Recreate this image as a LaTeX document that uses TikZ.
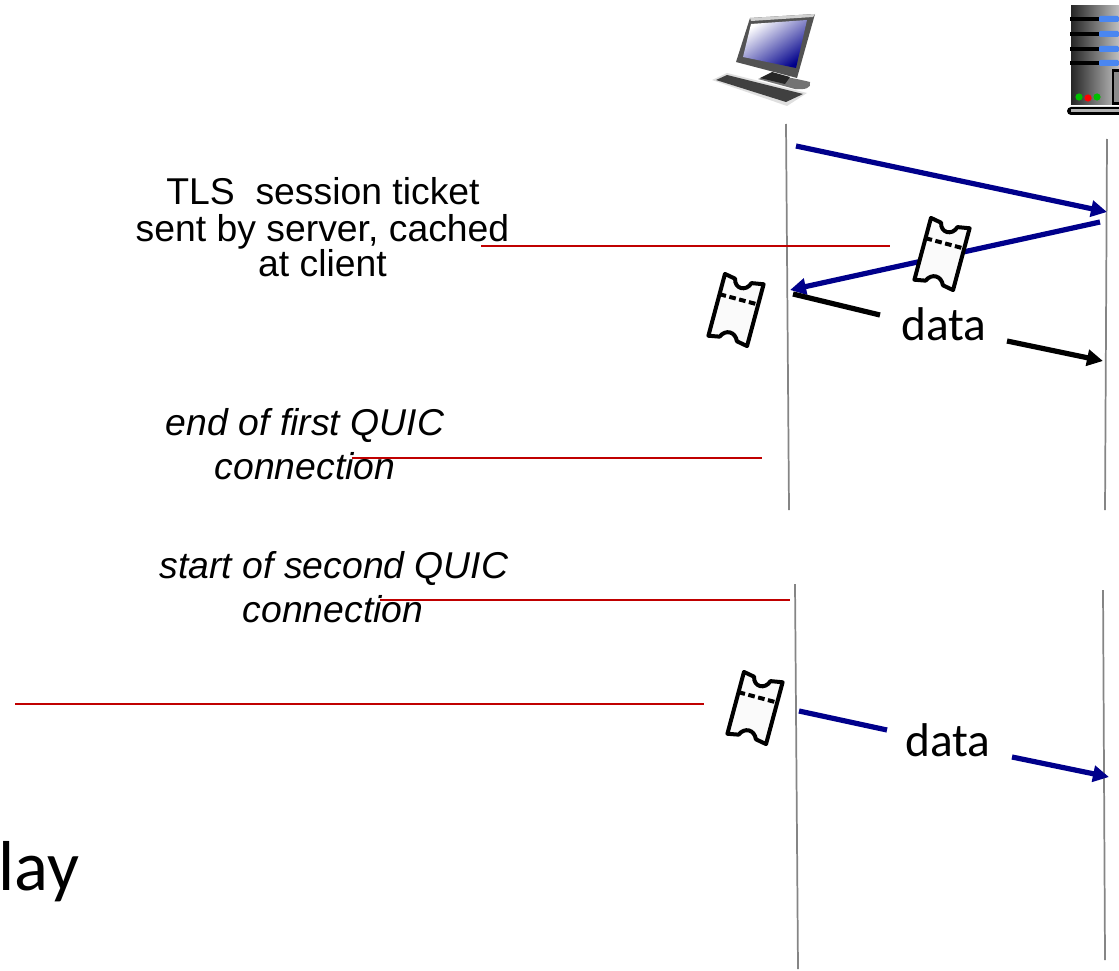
\documentclass[tikz,border=0pt]{standalone}
\usepackage{fontspec}
\setmainfont{Liberation Sans}
\newfontfamily\carl{Carlito}
\usetikzlibrary{arrows.meta}
\definecolor{flowblue}{HTML}{00008B}
\definecolor{notered}{HTML}{C00000}
\definecolor{lifegrey}{HTML}{858585}
\definecolor{slotblue}{HTML}{4A86F0}
\tikzset{
  x=0.75pt,y=-0.75pt,
  life/.style={draw=lifegrey,line width=1.3pt},
  msgblue/.style={draw=flowblue,line width=3.9pt},
  msgblack/.style={draw=black,line width=3.9pt},
  headtip/.style={-{Triangle[length=12pt,width=12pt]}},
  note/.style={draw=notered,line width=1.5pt},
  body/.style={font=\fontsize{28}{30}\selectfont,inner sep=0pt,anchor=base},
  ibody/.style={font=\fontsize{28}{30}\selectfont\itshape,inner sep=0pt,anchor=base},
  datalab/.style={font=\carl\fontsize{35.5}{40}\selectfont,inner sep=0pt,anchor=base},
  ticketpic/.pic={
    \draw[fill=white!98!black,line width=3pt,line join=round]
      (-20,-32) -- (-9,-30) .. controls (-7,-20) and (5,-20) .. (8,-30) -- (20,-32)
      -- (20,32) -- (9,30) .. controls (5,21) and (-5,21) .. (-9,30) -- (-20,32) -- cycle;
    \draw[line width=3pt,dash pattern=on 5pt off 2.6pt] (-20,-11) -- (20,-11);
  }
}
\begin{document}
\begin{tikzpicture}
\useasboundingbox (0,0) rectangle (1119,970);
% workstation
\fill[gray!65!black] (750,18) -- (815,14) -- (797,78) -- (736,62) -- cycle;
\fill[gray!35] (750,18) -- (815,14) -- (813,17) -- (751,21) -- cycle;
\shade[left color=white,right color=flowblue,shading angle=35] (751,24) -- (807,20) -- (796,68) -- (743,57) -- cycle;
\fill[black!55] (758,79) .. controls (770,74) and (785,76) .. (810,82) .. controls (812,88) and (805,90) .. (795,89) -- cycle;
\fill[black!85] (760,78) -- (772,72) -- (790,77) -- (785,84) -- cycle;
\fill[gray!25] (712,80) -- (727,73) -- (807,93) -- (787,106) -- cycle;
\fill[black!75] (716,80) -- (727,75) -- (803,94) -- (786,102) -- cycle;
% server
\shade[left color=black!85,right color=black!25] (1071,6) rectangle (1119,105);
\foreach \yy in {19,34,49,63}{
  \fill[black] (1070,\yy-2) rectangle (1100,\yy+2);
  \fill[slotblue,rounded corners=1pt] (1099,\yy-3) rectangle (1119,\yy+3);
}
\fill[black] (1112,69) rectangle (1119,105);
\fill[black!45] (1114,72) rectangle (1119,102);
\fill[green!75!black] (1079,97) circle (3.6);
\fill[red] (1088,98) circle (3.6);
\fill[green!75!black] (1097,97) circle (3.6);
\fill[black,rounded corners=3pt] (1067,107) rectangle (1125,115);
\fill[gray!60] (1071,109.5) rectangle (1119,112);
% texts
\node[body] (t1) at (323,204) {TLS\ \ session ticket};
\node[body] (t2) at (322.5,241) {sent by server, cached};
\node[body] (t3) at (322.5,276) {at client};
\node[ibody] (e1) at (305,435) {end of first QUIC};
\node[ibody] (e2) at (305,479) {connection};
\node[ibody] (s1) at (334,578) {start of second QUIC};
\node[ibody] (s2) at (333,622) {connection};
\node[inner sep=0pt,anchor=base west,font=\carl\fontsize{53}{60}\selectfont] (lay) at (-2,890) {lay};
\node[datalab] (d1) at (944,340) {data};
\node[datalab] (d2) at (948,756) {data};
% lifelines
\coordinate (ca) at (786,124); \coordinate (cb) at (789,510);
\coordinate (sa) at (1107,139); \coordinate (sb) at (1105,510);
\coordinate (cc) at (795,584); \coordinate (cd) at (798,969);
\coordinate (sc) at (1103,590); \coordinate (sd) at (1105,960);
\draw[life] (ca) -- (cb);
\draw[life] (sa) -- (sb);
\draw[life] (cc) -- (cd);
\draw[life] (sc) -- (sd);
% messages
\coordinate (m1a) at (796,146); \coordinate (m1b) at (1107,212);
\coordinate (m2a) at (1100,222); \coordinate (m2b) at (790,290);
\coordinate (m3a) at (793,294); \coordinate (m3b) at (880,315);
\coordinate (m3c) at (1007,341); \coordinate (m3d) at (1103,361);
\coordinate (m4a) at (799,711); \coordinate (m4b) at (887,730);
\coordinate (m4c) at (1012,757); \coordinate (m4d) at (1109,777);
\draw[msgblue,headtip] (m1a) -- (m1b);
\draw[msgblue,headtip] (m2a) -- (m2b);
\draw[msgblack] (m3a) -- (m3b);
\draw[msgblack,headtip] (m3c) -- (m3d);
\draw[msgblue] (m4a) -- (m4b);
\draw[msgblue,headtip] (m4c) -- (m4d);
% red notes
\coordinate (r1a) at (481,245.5); \coordinate (r1b) at (890,245.5);
\coordinate (r2a) at (352,458); \coordinate (r2b) at (762,458);
\coordinate (r3a) at (380,600); \coordinate (r3b) at (790,600);
\coordinate (r4a) at (15,704); \coordinate (r4b) at (704,704);
\draw[note] (r1a) -- (r1b);
\draw[note] (r2a) -- (r2b);
\draw[note] (r3a) -- (r3b);
\draw[note] (r4a) -- (r4b);
% tickets
\pic[rotate=-15] at (942,254) {ticketpic};
\pic[rotate=-15] at (736,310) {ticketpic};
\pic[rotate=-15] at (755,708) {ticketpic};
\end{tikzpicture}
\end{document}
